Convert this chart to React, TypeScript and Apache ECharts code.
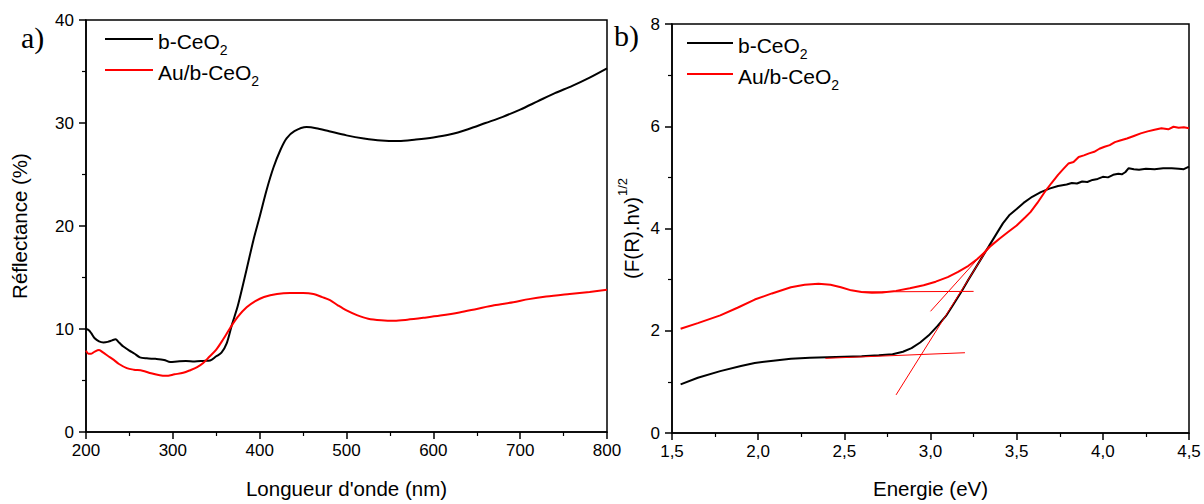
import React, { useEffect, useRef } from "react";
import * as echarts from "echarts";

// Panel a) reflectance vs wavelength
const wlBlack = [200,203,206,210,215,220,225,230,234,238,243,250,256,262,270,280,290,297,305,315,325,335,343,350,356,362,368,375,385,393,400,408,416,424,431,440,454,465,480,500,520,540,560,580,600,620,640,660,680,700,720,740,760,780,800];
const rBlack = [10.0,9.9,9.6,9.1,8.8,8.7,8.75,8.9,9.0,8.7,8.3,7.9,7.6,7.25,7.15,7.1,7.0,6.8,6.85,6.9,6.85,6.9,6.95,7.35,7.7,8.6,10.4,12.3,15.8,18.7,20.9,23.5,25.7,27.4,28.5,29.2,29.6,29.5,29.2,28.8,28.5,28.3,28.25,28.4,28.6,28.9,29.4,30.0,30.6,31.3,32.1,32.9,33.6,34.4,35.3];
const wlRed = [200,203,206,210,215,220,225,232,238,247,255,265,275,285,292,302,312,320,328,335,342,350,358,366,375,385,395,405,420,435,450,462,472,481,490,500,512,525,540,555,570,590,608,630,650,670,692,710,730,757,780,800];
const rRed = [7.9,7.6,7.6,7.8,7.95,7.7,7.4,7.0,6.6,6.2,6.05,5.95,5.7,5.5,5.45,5.6,5.75,6.0,6.3,6.7,7.3,8.0,9.0,10.1,11.2,12.1,12.7,13.1,13.4,13.5,13.5,13.4,13.1,12.8,12.3,11.8,11.35,11.0,10.85,10.8,10.9,11.1,11.3,11.6,11.95,12.3,12.6,12.9,13.15,13.4,13.6,13.8];

// Panel b) (F(R).hv)^1/2 vs energy
const eBlack = [1.55,1.65,1.78,1.9,1.98,2.1,2.19,2.3,2.4,2.5,2.6,2.7,2.78,2.84,2.89,2.94,2.99,3.04,3.09,3.13,3.18,3.22,3.26,3.3,3.34,3.38,3.42,3.46,3.5,3.54,3.59,3.64,3.69,3.74,3.79,3.82,3.85,3.88,3.91,3.94,3.97,4.0,4.03,4.06,4.09,4.11,4.13,4.15,4.18,4.21,4.25,4.3,4.35,4.4,4.44,4.47,4.5];
const kBlack = [0.95,1.08,1.21,1.31,1.37,1.42,1.45,1.47,1.48,1.49,1.5,1.52,1.54,1.59,1.66,1.77,1.91,2.09,2.29,2.5,2.77,3.0,3.22,3.44,3.66,3.88,4.1,4.27,4.38,4.5,4.62,4.71,4.78,4.83,4.86,4.89,4.88,4.92,4.91,4.95,4.97,5.01,5.0,5.05,5.07,5.06,5.1,5.18,5.16,5.15,5.17,5.16,5.18,5.18,5.17,5.16,5.21];
const eRed = [1.55,1.65,1.78,1.88,1.98,2.08,2.19,2.27,2.35,2.42,2.48,2.54,2.6,2.66,2.72,2.8,2.88,2.96,3.03,3.1,3.16,3.22,3.27,3.31,3.35,3.4,3.45,3.5,3.55,3.58,3.62,3.66,3.7,3.74,3.77,3.8,3.83,3.86,3.89,3.92,3.95,3.98,4.01,4.04,4.07,4.1,4.14,4.18,4.22,4.26,4.3,4.34,4.38,4.41,4.44,4.47,4.5];
const kRed = [2.04,2.15,2.3,2.45,2.61,2.73,2.85,2.9,2.92,2.9,2.85,2.79,2.76,2.745,2.75,2.78,2.83,2.89,2.96,3.05,3.15,3.27,3.4,3.52,3.66,3.8,3.93,4.06,4.22,4.32,4.5,4.7,4.88,5.05,5.16,5.27,5.3,5.4,5.43,5.47,5.5,5.56,5.6,5.63,5.69,5.72,5.76,5.81,5.86,5.9,5.93,5.96,5.94,5.99,5.97,5.98,5.96];

// Tangent lines (start/end points)
const tanBlackBase = [[2.39, 1.46], [3.2, 1.57]];
const tanBlackSlope = [[2.8, 0.745], [3.34, 3.65]];
const tanRedBase = [[2.6, 2.76], [3.25, 2.77]];
const tanRedSlope = [[3.0, 2.38], [3.34, 3.65]];

const names = ["b-CeO2", "Au/b-CeO2"];
const xTicksA = { min: 200, max: 800, interval: 100 };
const xTicksB = { min: 1.5, max: 4.5, interval: 0.5 };

const zip = (a: number[], b: number[]) => a.map((v, i) => [v, b[i]]);

const FONT = "Liberation Sans, Arial, sans-serif";

export default function App() {
  const ref = useRef<HTMLDivElement>(null);
  useEffect(() => {
    if (!ref.current) return;
    const chart = echarts.init(ref.current, null, { renderer: "svg" });
    const axisLine = { show: true, lineStyle: { color: "#000", width: 1.5 } };
    const axisTick = { show: true, inside: false, length: 7, lineStyle: { color: "#000", width: 1.5 } };
    const minorTick = { show: true, splitNumber: 2, length: 4, lineStyle: { color: "#000", width: 1.2 } };
    const axisLabel = { color: "#000", fontSize: 17, fontFamily: FONT, margin: 10 };
    const legendFmt = (n: string) => (n === "b-CeO2" ? "{t|b-CeO}{s|2}" : "{t|Au/b-CeO}{s|2}");
    const legendText = {
      color: "#000",
      fontSize: 21,
      fontFamily: FONT,
      rich: {
        t: { fontSize: 21, fontFamily: FONT, color: "#000", verticalAlign: "bottom", lineHeight: 26 },
        s: { fontSize: 14, fontFamily: FONT, color: "#000", verticalAlign: "bottom", lineHeight: 16, padding: [0, 0, -5, 0] },
      },
    };
    const lineSeries = (name: string, data: number[][], color: string, xi: number) => ({
      name,
      type: "line",
      xAxisIndex: xi,
      yAxisIndex: xi,
      data,
      symbol: "none",
      smooth: xi === 0 ? 0.3 : false,
      lineStyle: { color, width: 2 },
      itemStyle: { color },
      z: 3,
    });
    const tanSeries = (data: number[][]) => ({
      type: "line",
      xAxisIndex: 1,
      yAxisIndex: 1,
      data,
      symbol: "none",
      silent: true,
      lineStyle: { color: "#ff0000", width: 1 },
      z: 4,
    });
    chart.setOption({
      animation: false,
      backgroundColor: "#fff",
      grid: [
        { left: 86, top: 20, width: 521, height: 419, show: true, borderColor: "#000", borderWidth: 1.5, backgroundColor: "transparent" },
        { left: 672, top: 24, width: 517, height: 416, show: true, borderColor: "#000", borderWidth: 1.5, backgroundColor: "transparent" },
      ],
      legend: [
        {
          data: names,
          left: 100,
          top: 26,
          orient: "vertical",
          itemWidth: 48,
          itemHeight: 14,
          itemGap: 5,
          icon: "path://M0,0 L48,0 L48,2 L0,2 Z",
          textStyle: legendText,
          formatter: legendFmt,
          selectedMode: false,
        },
        {
          data: names,
          left: 682,
          top: 30,
          orient: "vertical",
          itemWidth: 46,
          itemHeight: 14,
          itemGap: 5,
          icon: "path://M0,0 L48,0 L48,2 L0,2 Z",
          textStyle: legendText,
          formatter: legendFmt,
          selectedMode: false,
        },
      ],
      xAxis: [
        {
          gridIndex: 0,
          type: "value",
          ...xTicksA,
          axisLine,
          axisTick,
          minorTick,
          splitLine: { show: false },
          axisLabel,
          name: "Longueur d'onde (nm)",
          nameLocation: "middle",
          nameGap: 46,
          nameTextStyle: { color: "#000", fontSize: 20.5, fontFamily: FONT },
        },
        {
          gridIndex: 1,
          type: "value",
          ...xTicksB,
          axisLine,
          axisTick,
          minorTick,
          splitLine: { show: false },
          axisLabel: { ...axisLabel, formatter: (v: number) => v.toFixed(1).replace(".", ",") },
          name: "Energie (eV)",
          nameLocation: "middle",
          nameGap: 45,
          nameTextStyle: { color: "#000", fontSize: 20.5, fontFamily: FONT },
        },
      ],
      yAxis: [
        {
          gridIndex: 0,
          type: "value",
          min: 0,
          max: 40,
          interval: 10,
          axisLine,
          axisTick,
          minorTick,
          splitLine: { show: false },
          axisLabel: { ...axisLabel, margin: 12 },
          name: "Réflectance (%)",
          nameLocation: "middle",
          nameGap: 56,
          nameTextStyle: { color: "#000", fontSize: 20.5, fontFamily: FONT },
        },
        {
          gridIndex: 1,
          type: "value",
          min: 0,
          max: 8,
          interval: 2,
          axisLine,
          axisTick,
          minorTick,
          splitLine: { show: false },
          axisLabel: { ...axisLabel, margin: 12 },
          name: "{t|(F(R).hν)}{u|1/2}",
          nameLocation: "middle",
          nameGap: 30,
          nameTextStyle: {
            color: "#000",
            fontSize: 20.5,
            fontFamily: FONT,
            rich: {
              t: { fontSize: 20.5, fontFamily: FONT, color: "#000", verticalAlign: "bottom", lineHeight: 26 },
              u: { fontSize: 13, fontFamily: FONT, color: "#000", verticalAlign: "top", lineHeight: 26, padding: [0, 0, 0, 1] },
            },
          },
        },
      ],
      graphic: [
        { type: "text", left: 21, top: 22, style: { text: "a)", fontSize: 30, fontFamily: "Liberation Serif, Times New Roman, serif", fill: "#000" } },
        { type: "text", left: 614, top: 20, style: { text: "b)", fontSize: 30, fontFamily: "Liberation Serif, Times New Roman, serif", fill: "#000" } },
      ],
      series: [
        lineSeries(names[0], zip(wlBlack, rBlack), "#000000", 0),
        lineSeries(names[1], zip(wlRed, rRed), "#ff0000", 0),
        lineSeries(names[0], zip(eBlack, kBlack), "#000000", 1),
        lineSeries(names[1], zip(eRed, kRed), "#ff0000", 1),
        tanSeries(tanBlackBase),
        tanSeries(tanBlackSlope),
        tanSeries(tanRedBase),
        tanSeries(tanRedSlope),
      ],
    });
    return () => chart.dispose();
  }, []);
  return <div ref={ref} style={{ position: "fixed", left: 0, top: 0, width: 1204, height: 504 }} />;
}
